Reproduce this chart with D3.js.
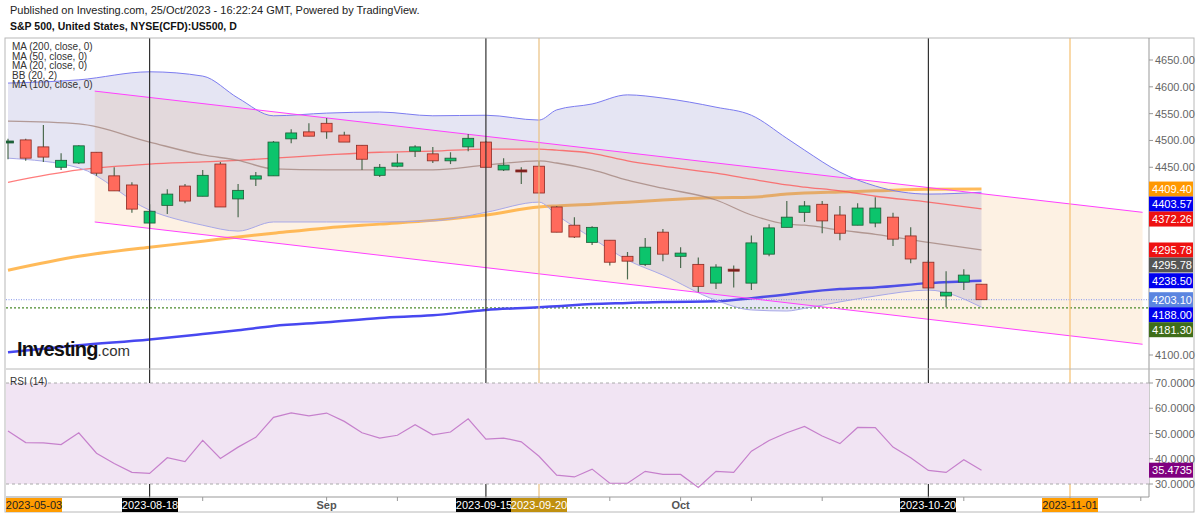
<!DOCTYPE html>
<html>
<head>
<meta charset="utf-8">
<script src="https://cdn.jsdelivr.net/npm/d3@7"></script>
<style>
  body { margin: 0; background: #fff; }
  svg { font-family: "Liberation Sans", Arial, sans-serif; }
</style>
</head>
<body>
<svg id="chart" width="1200" height="516"></svg>
<script>
// candles, one per trading day from 2023-08-08 to 2023-10-25
const open  = [4499,4501,4488,4450,4458,4478,4434,4417,4346,4379,4415,4396,4456,4391,4428,4434,4503,4516,4532,4510,4491,4435,4452,4480,4475,4462,4488,4497,4445,4445,4452,4376,4342,4310,4314,4284,4269,4329,4284,4269,4234,4260,4234,4288,4338,4366,4381,4361,4342,4346,4357,4322,4273,4210,4236,4232];
const high  = [4503,4503,4529,4476,4491,4478,4450,4422,4381,4409,4419,4445,4460,4419,4441,4499,4521,4532,4542,4516,4491,4456,4475,4491,4488,4478,4512,4499,4467,4450,4462,4378,4357,4340,4314,4292,4318,4335,4301,4282,4269,4267,4323,4344,4387,4387,4387,4378,4383,4394,4365,4338,4277,4256,4260,4232];
const low   = [4465,4462,4460,4445,4456,4434,4406,4365,4337,4363,4383,4396,4376,4357,4415,4434,4495,4508,4503,4497,4445,4432,4450,4469,4458,4456,4480,4450,4443,4419,4402,4329,4318,4305,4267,4241,4266,4275,4262,4217,4223,4226,4221,4284,4338,4348,4327,4314,4342,4338,4303,4271,4225,4189,4221,4203];
const close = [4499,4467,4469,4463,4490,4439,4406,4372,4368,4400,4387,4435,4376,4407,4434,4497,4514,4508,4516,4497,4465,4450,4458,4488,4462,4467,4504,4450,4454,4443,4402,4329,4320,4338,4273,4275,4301,4288,4290,4228,4264,4258,4309,4337,4357,4378,4350,4327,4374,4374,4316,4279,4225,4217,4249,4203.1];

// indicator values at these candle indices
const knots   = [0,4,8,11,13,15,18,21,24,27,30,31,33,35,37,40,42,44,45,47,49,52,55];
const bbUpper = [4607,4613,4628,4620,4579,4546,4551,4553,4546,4547,4538,4557,4568,4585,4579,4562,4547,4504,4482,4441,4415,4400,4403.57];
const bbLower = [4467,4449,4370,4342,4331,4348,4348,4348,4350,4366,4385,4361,4318,4277,4249,4202,4184,4182,4187,4199,4210,4221,4189];
const ma20    = [4536,4531,4497,4473,4463,4447,4445,4445,4445,4454,4462,4458,4445,4426,4411,4389,4361,4344,4342,4333,4325,4310,4295.78];
const ma50    = [4422,4445,4456,4460,4463,4467,4473,4478,4480,4484,4484,4482,4476,4462,4452,4439,4428,4417,4413,4406,4396,4385,4372.26];
const ma100   = [4258,4284,4301,4312,4320,4327,4337,4344,4351,4361,4376,4378,4381,4385,4389,4393,4394,4400,4402,4404,4406,4409,4409.40];
const ma200   = [4105,4118,4129,4139,4146,4154,4161,4169,4174,4184,4189,4191,4195,4197,4199,4200,4206,4213,4217,4223,4226,4234,4238.50];

const rsi = [51.0,46.4,46.3,45.6,50.3,42.2,38.1,34.6,34.2,40.4,38.9,47.3,40.1,44.6,48.5,56.4,58.2,57.0,58.1,54.8,50.3,48.2,49.3,53.5,49.5,50.6,55.8,47.8,48.2,46.7,41.0,33.5,32.8,35.9,30.3,30.3,35.0,33.8,33.8,28.6,35.0,34.6,43.0,47.2,50.3,52.8,49.0,46.0,52.4,52.3,44.6,40.4,35.4,34.6,39.6,35.4735];

// trend channel: [index, value] end points
const channelTop = [[4.9,4592],[64.1,4366]];
const channelBot = [[4.9,4348],[64.1,4120]];

const hLines = [
  { value: 4203.10, color: "#9aa8ee", dash: "1,1.5" },
  { value: 4188.00, color: "#4a8a2a", dash: "2,2" }
];
const vLines = [
  { i: 8, label: "2023-08-18", color: "#333", box: "#000", text: "#fff", lx: 150 },
  { i: 27, label: "2023-09-15", color: "#333", box: "#000", text: "#fff", lx: 484 },
  { i: 30, label: "2023-09-20", color: "#e9c080", box: "#c09010", text: "#fff", lx: 539 },
  { i: 52, label: "2023-10-20", color: "#333", box: "#000", text: "#fff", lx: 928 },
  { i: 60, label: "2023-11-01", color: "#f5c070", box: "#ff9c00", text: "#222", lx: 1070 }
];
const priceTags = [
  { value: 4409.40, color: "#ff9800" },
  { value: 4403.57, color: "#0000ee" },
  { value: 4372.26, color: "#ee1111" },
  { value: 4295.78, color: "#ee1111" },
  { value: 4295.78, color: "#555555" },
  { value: 4238.50, color: "#0000ee" },
  { value: 4203.10, color: "#5b85e0" },
  { value: 4188.00, color: "#0000ee" },
  { value: 4181.30, color: "#3f6e1a" }
];
const priceTicks = d3.range(4100, 4651, 50);
const rsiTicks = [30, 40, 50, 60, 70];
const monthTicks = [{ i: 18, label: "Sep" }, { i: 38, label: "Oct" }];
const minorTicks = [8, 11, 18, 22, 27, 30, 34, 38, 42, 46, 52, 54, 60, 64];
const legend = ["MA (200, close, 0)", "MA (50, close, 0)", "MA (20, close, 0)", "BB (20, 2)", "MA (100, close, 0)"];

const svg = d3.select("#chart");
const plotL = 6, plotR = 1149, frameR = 1194;
const x = d3.scaleLinear().domain([0, 60]).range([8, 1070]);
const y = d3.scaleLinear().domain([4100, 4650]).range([355, 60]);
const yR = d3.scaleLinear().domain([30, 70]).range([484, 383]);

// header
svg.append("text").attr("x", 10).attr("y", 14).attr("font-size", 11).attr("fill", "#222")
  .text("Published on Investing.com, 25/Oct/2023 - 16:22:24 GMT, Powered by TradingView.");
svg.append("text").attr("x", 10).attr("y", 30).attr("font-size", 10.5).attr("font-weight", "bold").attr("fill", "#111")
  .text("S&P 500, United States, NYSE(CFD):US500, D");

const price = svg.append("g");
price.append("defs").append("clipPath").attr("id", "clipP")
  .append("rect").attr("x", plotL).attr("y", 38).attr("width", plotR - plotL).attr("height", 331);
const pg = price.append("g").attr("clip-path", "url(#clipP)");

const kx = i => x(knots[i]);
const line = arr => d3.line().x((d, i) => kx(i)).y(d => y(d)).curve(d3.curveMonotoneX)(arr);

// channel fill
const chPoly = [channelTop[0], channelTop[1], channelBot[1], channelBot[0]]
  .map(p => [x(p[0]), y(p[1])]);
pg.append("path").attr("d", "M" + chPoly.join("L") + "Z")
  .attr("fill", "rgb(240,160,70)").attr("fill-opacity", 0.15);

// horizontal levels
hLines.forEach(h => {
  pg.append("line").attr("x1", plotL).attr("x2", plotR).attr("y1", y(h.value)).attr("y2", y(h.value))
    .attr("stroke", h.color).attr("stroke-width", 1.2).attr("stroke-dasharray", h.dash);
});

// moving averages
pg.append("path").attr("d", line(ma200)).attr("fill", "none").attr("stroke", "#4848f0").attr("stroke-width", 2.5);
pg.append("path").attr("d", line(ma100)).attr("fill", "none").attr("stroke", "#ffb347").attr("stroke-width", 3).attr("stroke-opacity", 0.9);

// bollinger fill over the slow averages, like the reference
pg.append("path")
  .attr("d", d3.area().x((d, i) => kx(i)).y0((d, i) => y(bbLower[i])).y1(d => y(d)).curve(d3.curveMonotoneX)(bbUpper))
  .attr("fill", "rgb(110,110,190)").attr("fill-opacity", 0.18);

pg.append("path").attr("d", line(ma50)).attr("fill", "none").attr("stroke", "#ff5050").attr("stroke-width", 1.3).attr("stroke-opacity", 0.75);
pg.append("path").attr("d", line(ma20)).attr("fill", "none").attr("stroke", "#a08078").attr("stroke-width", 1.3).attr("stroke-opacity", 0.75);
pg.append("path").attr("d", line(bbUpper)).attr("fill", "none").attr("stroke", "#7c7cf0").attr("stroke-width", 1);
pg.append("path").attr("d", line(bbLower)).attr("fill", "none").attr("stroke", "#a8a8e8").attr("stroke-width", 1);

// channel lines
[channelTop, channelBot].forEach(c => {
  pg.append("line").attr("x1", x(c[0][0])).attr("y1", y(c[0][1])).attr("x2", x(c[1][0])).attr("y2", y(c[1][1]))
    .attr("stroke", "#ff40ff").attr("stroke-width", 1);
});

// vertical markers
vLines.forEach(v => {
  svg.append("line").attr("x1", x(v.i)).attr("x2", x(v.i)).attr("y1", 38).attr("y2", 497)
    .attr("stroke", v.color).attr("stroke-width", 1.2);
});

// candles
const cw = 11;
const cg = pg.append("g");
open.forEach((o, i) => {
  const c = close[i], up = c >= o;
  const cx = x(i);
  cg.append("line").attr("x1", cx).attr("x2", cx).attr("y1", y(high[i])).attr("y2", y(low[i]))
    .attr("stroke", "#4d6b50").attr("stroke-width", 1.2);
  const top = y(Math.max(o, c)), h = Math.max(2, Math.abs(y(o) - y(c)));
  cg.append("rect").attr("x", cx - cw / 2).attr("y", top).attr("width", cw).attr("height", h)
    .attr("fill", h <= 2 ? (up ? "#1a6a3a" : "#7a1a1a") : (up ? "#0cc46c" : "#ff6a5c"))
    .attr("stroke", up ? "#1f5a36" : "#8a2a22").attr("stroke-width", 0.8);
});

// logo
const logo = svg.append("text").attr("x", 17).attr("y", 356);
logo.append("tspan").attr("font-size", 20).attr("font-weight", "bold").attr("fill", "#111").attr("letter-spacing", -0.8).text("Investing");
logo.append("tspan").attr("font-size", 15).attr("fill", "#333").text(".com");

// legend
legend.forEach((t, i) => {
  svg.append("text").attr("x", 12).attr("y", 50 + i * 9.5).attr("font-size", 10).attr("fill", "#333").text(t);
});

// frame
const frame = svg.append("g").attr("fill", "none").attr("stroke", "#b8b8b8");
frame.append("rect").attr("x", plotL - 1).attr("y", 38).attr("width", frameR - plotL + 1).attr("height", 474);
frame.append("line").attr("x1", plotR).attr("x2", plotR).attr("y1", 38).attr("y2", 497).attr("stroke", "#999");
frame.append("line").attr("x1", plotL).attr("x2", frameR).attr("y1", 369).attr("y2", 369);
frame.append("line").attr("x1", plotL).attr("x2", plotR).attr("y1", 497).attr("y2", 497).attr("stroke", "#999");

// price axis
const tagY = [];
priceTags.forEach((t, i) => {
  let yy = y(t.value);
  if (i > 0 && yy < tagY[i - 1] + 15) yy = tagY[i - 1] + 15;
  tagY.push(yy);
});
priceTicks.forEach(v => {
  const yy = y(v);
  svg.append("line").attr("x1", plotR).attr("x2", plotR + 4).attr("y1", yy).attr("y2", yy).attr("stroke", "#999");
  if (tagY.some(t => Math.abs(t - yy) < 9)) return;
  svg.append("text").attr("x", plotR + 6).attr("y", yy + 4).attr("font-size", 11).attr("fill", "#666").text(d3.format(".2f")(v));
});
priceTags.forEach((t, i) => {
  svg.append("rect").attr("x", plotR).attr("y", tagY[i] - 7.5).attr("width", frameR - plotR - 1).attr("height", 15).attr("fill", t.color);
  svg.append("text").attr("x", plotR + 3).attr("y", tagY[i] + 4).attr("font-size", 11).attr("fill", "#fff")
    .attr("textLength", 40).attr("lengthAdjust", "spacingAndGlyphs").text(d3.format(".2f")(t.value));
});

// RSI pane
svg.append("rect").attr("x", plotL).attr("y", yR(70)).attr("width", plotR - plotL).attr("height", yR(30) - yR(70))
  .attr("fill", "#f1e4f3");
[30, 70].forEach(v => {
  svg.append("line").attr("x1", plotL).attr("x2", plotR).attr("y1", yR(v)).attr("y2", yR(v))
    .attr("stroke", "#aaa").attr("stroke-dasharray", "3,3");
});
svg.append("path").attr("d", d3.line().x((d, i) => x(i)).y(d => yR(d))(rsi))
  .attr("fill", "none").attr("stroke", "#c680cc").attr("stroke-width", 1.2);
svg.append("text").attr("x", 10).attr("y", 385).attr("font-size", 10).attr("fill", "#333").text("RSI (14)");
rsiTicks.forEach(v => {
  const yy = yR(v);
  svg.append("line").attr("x1", plotR).attr("x2", plotR + 4).attr("y1", yy).attr("y2", yy).attr("stroke", "#999");
  svg.append("text").attr("x", plotR + 6).attr("y", yy + 4).attr("font-size", 11).attr("fill", "#666").text(d3.format(".4f")(v));
});
const lastR = rsi[rsi.length - 1];
svg.append("rect").attr("x", plotR).attr("y", yR(lastR) - 7.5).attr("width", frameR - plotR - 1).attr("height", 15).attr("fill", "#800080");
svg.append("text").attr("x", plotR + 3).attr("y", yR(lastR) + 4).attr("font-size", 11).attr("fill", "#fff")
  .attr("textLength", 40).attr("lengthAdjust", "spacingAndGlyphs").text(d3.format(".4f")(lastR));

// time axis
minorTicks.forEach(i => {
  svg.append("line").attr("x1", x(i)).attr("x2", x(i)).attr("y1", 497).attr("y2", 501).attr("stroke", "#999");
});
monthTicks.forEach(m => {
  svg.append("text").attr("x", x(m.i)).attr("y", 509).attr("text-anchor", "middle").attr("font-size", 11)
    .attr("font-weight", "bold").attr("fill", "#555").text(m.label);
});
const dateBoxes = [{ lx: 34, label: "2023-05-03", box: "#ff9c00", text: "#222" }].concat(vLines);
dateBoxes.forEach(d => {
  svg.append("rect").attr("x", d.lx - 28).attr("y", 498).attr("width", 56).attr("height", 14).attr("fill", d.box);
  svg.append("text").attr("x", d.lx).attr("y", 509).attr("text-anchor", "middle").attr("font-size", 11)
    .attr("fill", d.text).text(d.label);
});
</script>
</body>
</html>
